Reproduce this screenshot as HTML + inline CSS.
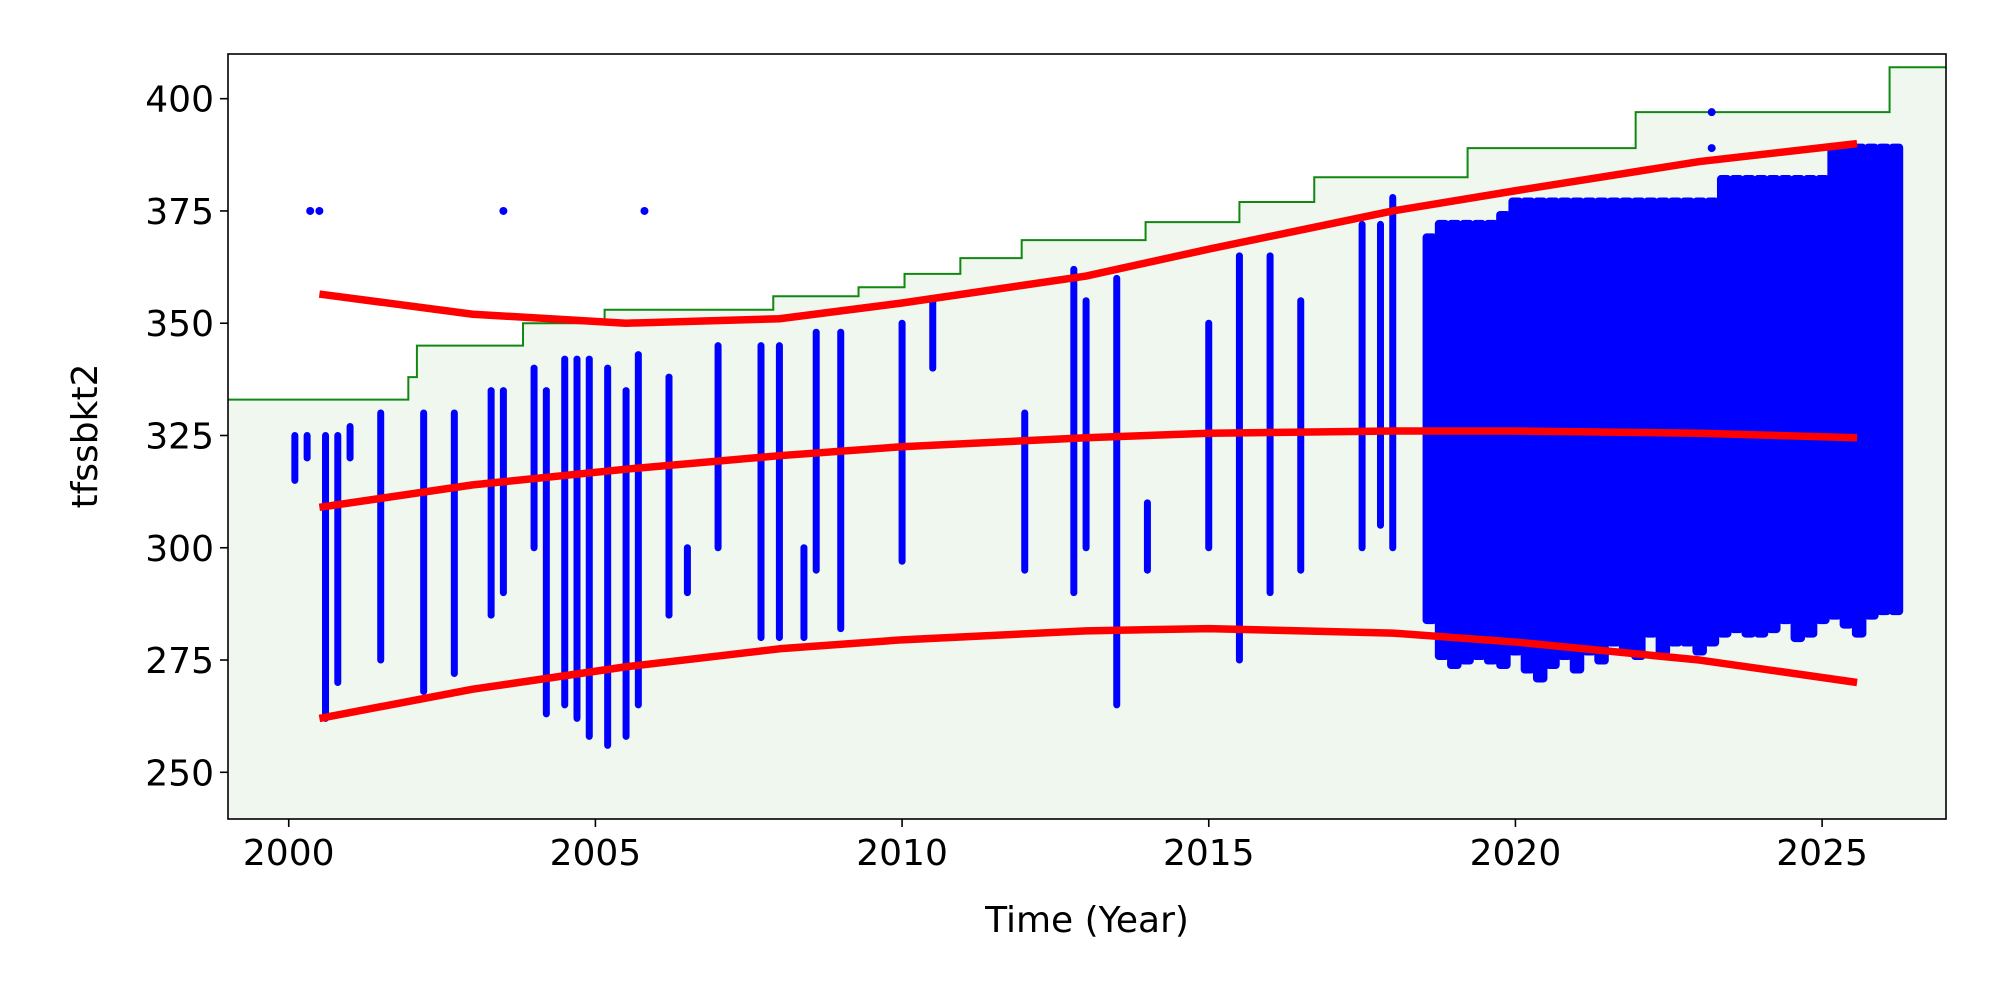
<!DOCTYPE html>
<html><head><meta charset="utf-8"><style>
html,body{margin:0;padding:0;background:#fff;}
svg{display:block;font-family:"DejaVu Sans","Liberation Sans",sans-serif;}
</style></head>
<body>
<svg id="chart" width="2000" height="1000" viewBox="0 0 2000 1000" xmlns="http://www.w3.org/2000/svg">
<defs><clipPath id="clip"><rect x="228" y="54" width="1718" height="765"/></clipPath></defs>
<rect x="0" y="0" width="2000" height="1000" fill="#fff"/>
<g id="plot" clip-path="url(#clip)"></g>
<rect x="228" y="54" width="1718" height="765" fill="none" stroke="#000" stroke-width="1.6"/>
<g id="axes"></g>
<text x="1087" y="932" font-size="36" text-anchor="middle">Time (Year)</text>
<text transform="translate(97,436) rotate(-90)" font-size="36" text-anchor="middle">tfssbkt2</text>
</svg>
<script>
const xTicks=[2000,2005,2010,2015,2020,2025];
const yTicks=[250,275,300,325,350,375,400];
const stepYears=[1999,2001.95,2002.09,2003.82,2005.15,2007.9,2009.29,2010.04,2010.95,2011.95,2013.97,2015.5,2016.72,2019.22,2021.96,2026.1,2027.1];
const stepValues=[333,338,345,350,353,356,358,361,364.5,368.5,372.5,377,382.5,389,397,407,407];
const fitYears=[2000.5,2003,2005.5,2008,2010,2013,2015,2018,2020,2023,2025.57];
const upperFit=[356.5,352,350,351,354.5,360.5,366.5,375,379.5,386,390];
const middleFit=[309,314,317.5,320.5,322.5,324.5,325.5,326,326,325.5,324.5];
const lowerFit=[262,268.5,273.5,277.5,279.5,281.5,282,281,279,275,270];
const barYears=[2000.1,2000.3,2000.6,2000.8,2001.0,2001.5,2002.2,2002.7,2003.3,2003.5,2004.0,2004.2,2004.5,2004.7,2004.9,2005.2,2005.5,2005.7,2006.2,2006.5,2007.0,2007.7,2008.0,2008.4,2008.6,2009.0,2010.0,2010.5,2012.0,2012.8,2013.0,2013.5,2014.0,2015.0,2015.5,2016.0,2016.5,2017.5,2017.8,2018.0];
const barMins=[315,320,262,270,320,275,268,272,285,290,300,263,265,262,258,256,258,265,285,290,300,280,280,280,295,282,297,340,295,290,300,265,295,300,275,290,295,300,305,300];
const barMaxs=[325,325,325,325,327,330,330,330,335,335,340,335,342,342,342,340,335,343,338,300,345,345,345,300,348,348,350,355,330,362,355,360,310,350,365,365,355,372,372,378];
const denseYears=[2018.6,2018.8,2019.0,2019.2,2019.4,2019.6,2019.8,2020.0,2020.2,2020.4,2020.6,2020.8,2021.0,2021.2,2021.4,2021.6,2021.8,2022.0,2022.2,2022.4,2022.6,2022.8,2023.0,2023.2,2023.4,2023.6,2023.8,2024.0,2024.2,2024.4,2024.6,2024.8,2025.0,2025.2,2025.4,2025.6,2025.8,2026.0,2026.2];
const denseMins=[283,275,273,274,275,274,273,276,272,270,273,275,272,276,274,278,276,275,280,276,278,278,276,278,280,281,280,280,281,283,279,280,283,284,282,280,284,285,285];
const denseMaxs=[370,373,373,373,373,373,375,378,378,378,378,378,378,378,378,378,378,378,378,378,378,378,378,378,383,383,383,383,383,383,383,383,383,390,390,390,390,390,390];
const dotYears=[2000.35,2000.5,2003.5,2005.8,2023.2,2023.2];
const dotValues=[375,375,375,375,397,389];

const NS="http://www.w3.org/2000/svg";
const X0=228,X1=1946,Y0=54,Y1=819,XMIN=1999.01,XMAX=2027.02,YMIN=239.6,YMAX=409.95;
function sx(v){return X0+(v-XMIN)/(XMAX-XMIN)*(X1-X0);}
function sy(v){return Y1-(v-YMIN)/(YMAX-YMIN)*(Y1-Y0);}
function mk(tag,attrs,parent){const e=document.createElementNS(NS,tag);for(const k in attrs)e.setAttribute(k,attrs[k]);parent.appendChild(e);return e;}
const plot=document.getElementById('plot'),axes=document.getElementById('axes');

let d=`M${sx(stepYears[0])},${sy(stepValues[0])}`;
for(let i=1;i<stepYears.length;i++){d+=` H${sx(stepYears[i])} V${sy(stepValues[i])}`;}
const fill=mk('path',{d:d+` V${Y1+5} H${sx(stepYears[0])} Z`,fill:'#eff7ef',stroke:'none'},plot);


const step=mk('path',{d:d,fill:'none',stroke:'#118811','stroke-width':2},plot);



for(let i=0;i<barYears.length;i++){
  const l=mk('line',{x1:sx(barYears[i]),x2:sx(barYears[i]),y1:sy(barMins[i]),y2:sy(barMaxs[i]),stroke:'#0000ff','stroke-width':7,'stroke-linecap':'round'},plot);
  
  
}
for(let i=0;i<denseYears.length;i++){
  const x=sx(denseYears[i]);
  const r=mk('rect',{x:x-7,width:14.5,y:sy(denseMaxs[i]),height:sy(denseMins[i])-sy(denseMaxs[i]),fill:'#0000ff',rx:4},plot);
  
  
}
for(let i=0;i<dotYears.length;i++){
  const c=mk('circle',{cx:sx(dotYears[i]),cy:sy(dotValues[i]),r:4,fill:'#0000ff'},plot);
  
  
}
[[upperFit,'upper-fit-line'],[middleFit,'middle-fit-line'],[lowerFit,'lower-fit-line']].forEach(([arr,name])=>{
  const pts=fitYears.map((y,i)=>`${sx(y)},${sy(arr[i])}`).join(' ');
  const p=mk('polyline',{points:pts,fill:'none',stroke:'#ff0000','stroke-width':7.5,'stroke-linejoin':'round'},plot);
  
  
});
xTicks.forEach(t=>{
  const x=sx(t);
  mk('line',{x1:x,x2:x,y1:Y1,y2:Y1+8,stroke:'#000','stroke-width':1.6},axes);
  const tx=mk('text',{x:x,y:Y1+46,'font-size':36,'text-anchor':'middle'},axes);
  tx.textContent=t;
  
  
});
yTicks.forEach(t=>{
  const y=sy(t);
  mk('line',{x1:X0-8,x2:X0,y1:y,y2:y,stroke:'#000','stroke-width':1.6},axes);
  const tx=mk('text',{x:X0-14,y:y+13,'font-size':36,'text-anchor':'end'},axes);
  tx.textContent=t;
  
  
});
</script>
</body></html>
